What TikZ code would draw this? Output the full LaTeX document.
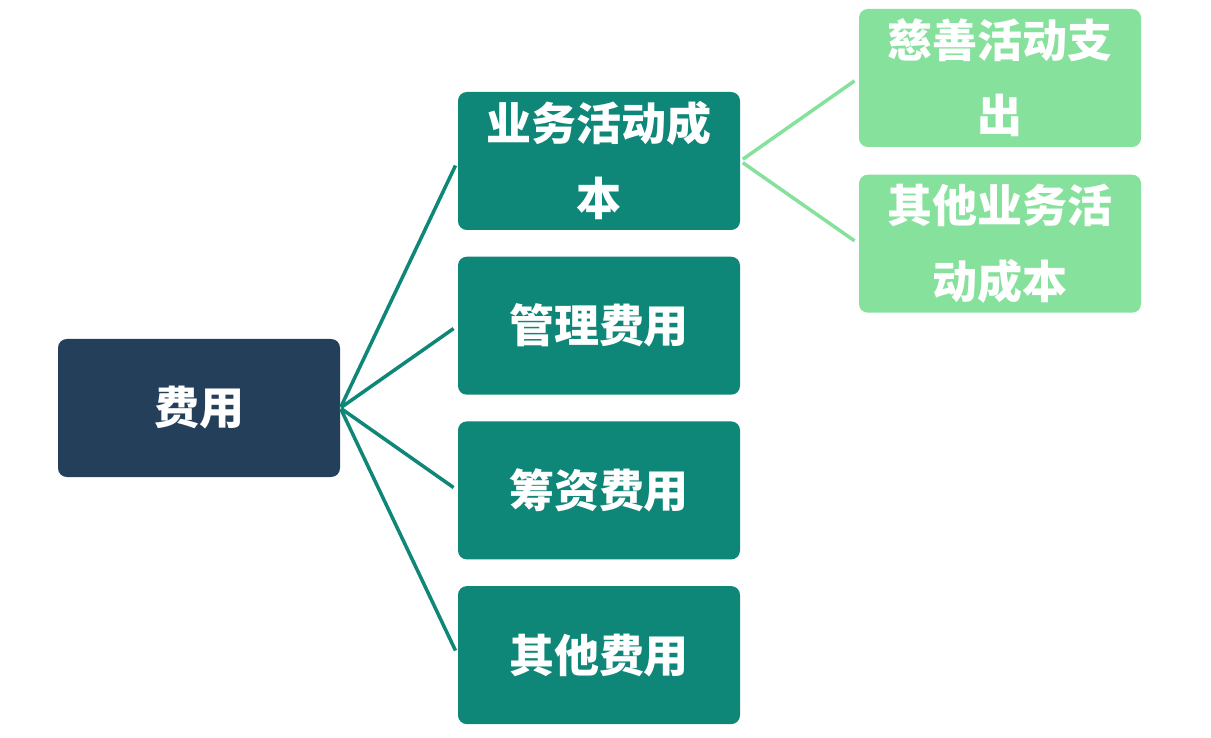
\documentclass[tikz,border=0pt]{standalone}
\usepackage{fontspec}
\usepackage{xcolor}
\usepackage{tikz}
\usetikzlibrary{positioning}
\newfontfamily\cjk{Noto Sans CJK SC}
\definecolor{navy}{HTML}{243F5A}
\definecolor{teal}{HTML}{0E8678}
\definecolor{mint}{HTML}{86E19C}

\begin{document}
\begin{tikzpicture}[
  box/.style={rounded corners=5pt, minimum width=5.64cm, minimum height=2.76cm,
              font=\cjk\bfseries\fontsize{25.6pt}{42.7pt}\selectfont, text=white,
              align=center, inner sep=0pt, fill=#1},
  lnk/.style={line width=2pt, draw=#1, shorten >=0.1cm, shorten <=0.02cm},
  node distance=0.52cm
]
  \useasboundingbox (0,0) rectangle (24.22,-14.76);

  \node[box=navy] (fee) at (3.98,-8.16) {费用};
  \node[box=teal] (biz) at (11.98,-3.22) {业务活动成\\本};
  \node[box=teal, below=of biz] (mgmt) {管理费用};
  \node[box=teal, below=of mgmt] (fund) {筹资费用};
  \node[box=teal, below=of fund] (other) {其他费用};
  \node[box=mint] (charity) at (20.0,-1.56) {慈善活动支\\出};
  \node[box=mint, below=0.54cm of charity] (otherbiz) {其他业务活\\动成本};

  \foreach \n in {biz, mgmt, fund, other}
    \draw[lnk=teal] (fee.east) -- (\n.west);
  \foreach \n in {charity, otherbiz}
    \draw[lnk=mint, shorten <=0.06cm] (biz.east) -- (\n.west);
\end{tikzpicture}
\end{document}
